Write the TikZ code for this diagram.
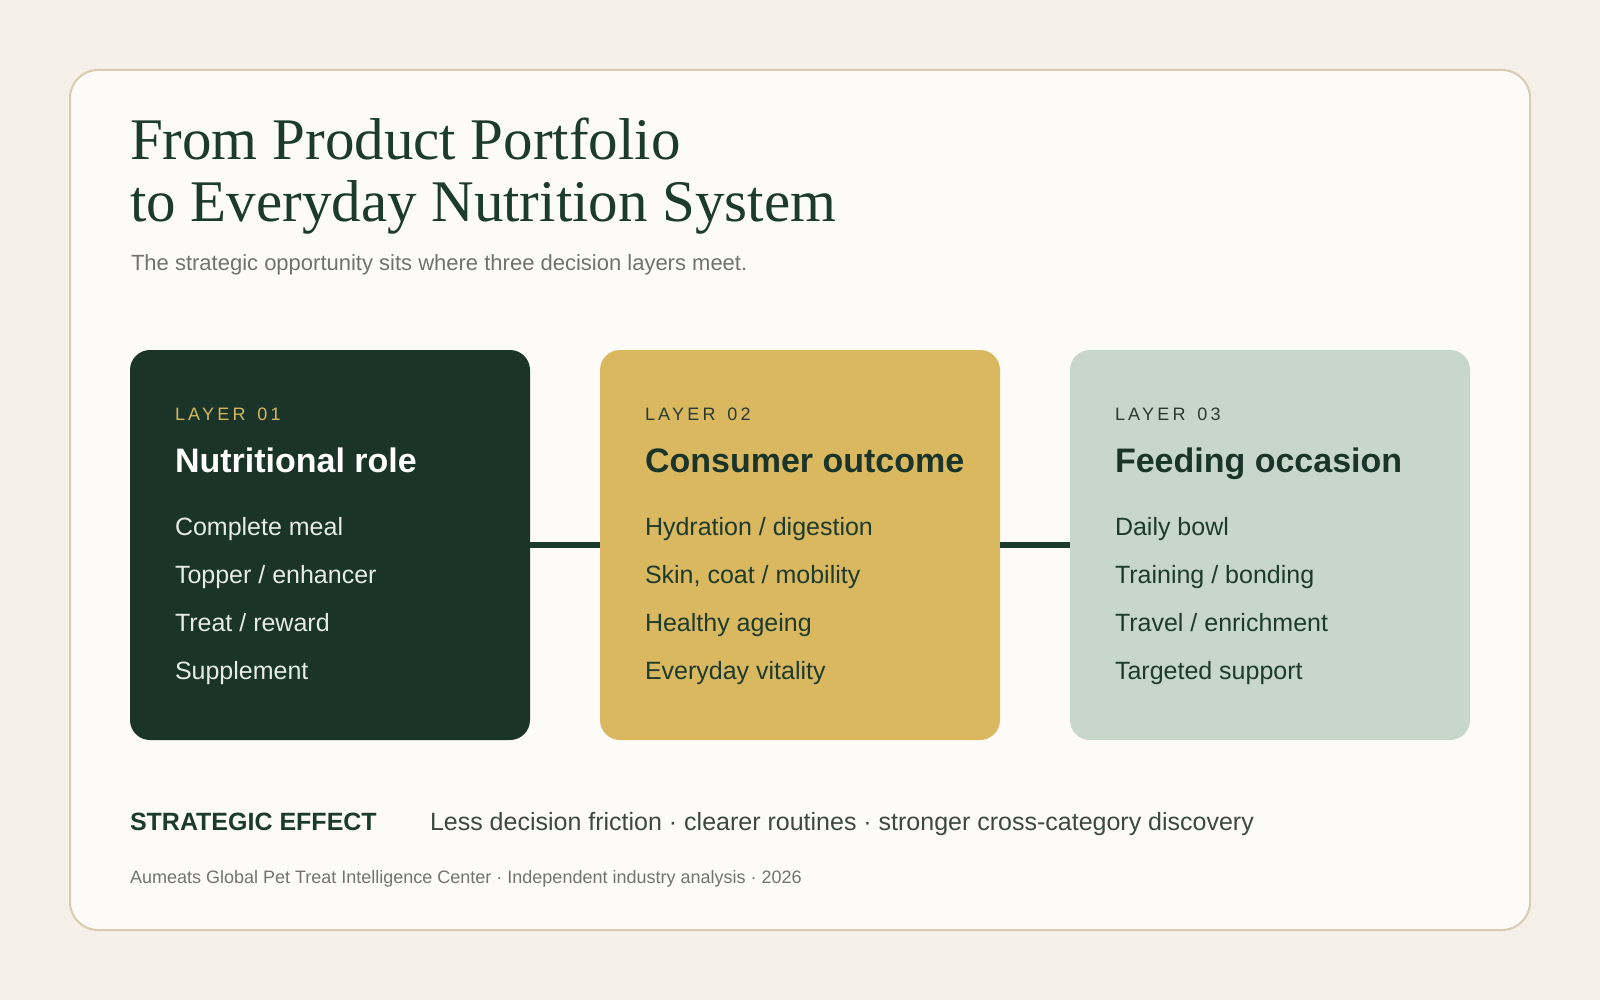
\documentclass[tikz,border=0pt]{standalone}
\usepackage{fontspec}
\setmainfont{Liberation Sans}
\newfontfamily\titlefont{Liberation Serif}
\newfontfamily\trackfont[LetterSpace=18]{Liberation Sans}
\definecolor{bgc}{HTML}{F5F0E8}
\definecolor{cardc}{HTML}{FCFBF7}
\definecolor{cardb}{HTML}{D9CCB5}
\definecolor{deepg}{HTML}{1A3429}
\definecolor{titleg}{HTML}{1C3A2D}
\definecolor{goldc}{HTML}{D9B860}
\definecolor{sagec}{HTML}{C8D7CC}
\definecolor{goldtxt}{HTML}{D6B75F}
\definecolor{subg}{HTML}{6E736F}
\definecolor{effg}{HTML}{3D4843}
\definecolor{footg}{HTML}{70756F}
\definecolor{lighttxt}{HTML}{E6ECE6}
\definecolor{darktxt}{HTML}{1D3A2D}
\definecolor{labtxt}{HTML}{2A3A31}
\newcommand{\lsp}{\hspace{3.4pt}}
\begin{document}
\begin{tikzpicture}[x=1pt,y=1pt,
  layerbox/.style={rectangle, rounded corners=20pt, minimum width=400pt, minimum height=390pt, inner sep=0pt, outer sep=0pt},
  txt/.style={anchor=base west, inner sep=0pt, outer sep=0pt},
  labelt/.style={txt, font=\trackfont\fontsize{18}{20}\selectfont},
  headt/.style={txt, font=\bfseries\fontsize{34}{38}\selectfont},
  itemt/.style={txt, font=\fontsize{25}{28}\selectfont},
  titlet/.style={txt, font=\titlefont\fontsize{59}{62}\selectfont, text=titleg},
  link/.style={line width=6.5pt, draw=titleg}
]
\useasboundingbox (0,0) rectangle (1600,-1000);
\fill[bgc] (0,0) rectangle (1600,-1000);
\draw[fill=cardc, draw=cardb, line width=2pt, rounded corners=28pt] (70,-70) rectangle (1530,-930);

% title
\node[titlet] (title1) at (130,-160) {From Product Portfolio};
\node[titlet] (title2) at (130,-222) {to Everyday Nutrition System};
\node[txt, font=\fontsize{22}{26}\selectfont, text=subg] (sub) at (131,-270) {The strategic opportunity sits where three decision layers meet.};

% boxes
\node[layerbox, fill=deepg] (b1) at (330,-545) {};
\node[layerbox, fill=goldc] (b2) at (800,-545) {};
\node[layerbox, fill=sagec] (b3) at (1270,-545) {};
\draw[link] (b1.east) -- (b2.west);
\draw[link] (b2.east) -- (b3.west);

% box 1
\node[labelt, text=goldtxt] (l1) at (175,-420) {LAYER \lsp01};
\node[headt, text=white] (h1) at (175,-472) {Nutritional role};
\node[itemt, text=lighttxt] (i11) at (175,-535) {Complete meal};
\node[itemt, text=lighttxt] (i12) at (175,-583) {Topper / enhancer};
\node[itemt, text=lighttxt] (i13) at (175,-631) {Treat / reward};
\node[itemt, text=lighttxt] (i14) at (175,-679) {Supplement};

% box 2
\node[labelt, text=labtxt] (l2) at (645,-420) {LAYER \lsp02};
\node[headt, text=deepg] (h2) at (645,-472) {Consumer outcome};
\node[itemt, text=darktxt] (i21) at (645,-535) {Hydration / digestion};
\node[itemt, text=darktxt] (i22) at (645,-583) {Skin, coat / mobility};
\node[itemt, text=darktxt] (i23) at (645,-631) {Healthy ageing};
\node[itemt, text=darktxt] (i24) at (645,-679) {Everyday vitality};

% box 3
\node[labelt, text=labtxt] (l3) at (1115,-420) {LAYER \lsp03};
\node[headt, text=deepg] (h3) at (1115,-472) {Feeding occasion};
\node[itemt, text=darktxt] (i31) at (1115,-535) {Daily bowl};
\node[itemt, text=darktxt] (i32) at (1115,-583) {Training / bonding};
\node[itemt, text=darktxt] (i33) at (1115,-631) {Travel / enrichment};
\node[itemt, text=darktxt] (i34) at (1115,-679) {Targeted support};

% bottom
\node[txt, font=\bfseries\fontsize{25}{28}\selectfont, text=titleg] (eff) at (130,-830) {STRATEGIC EFFECT};
\node[txt, font=\fontsize{25}{28}\selectfont, text=effg] (efft) at (430,-830) {Less decision friction · clearer routines · stronger cross-category discovery};
\node[txt, font=\fontsize{18}{20}\selectfont, text=footg] (foot) at (130,-883) {Aumeats Global Pet Treat Intelligence Center · Independent industry analysis · 2026};
\end{tikzpicture}
\end{document}
